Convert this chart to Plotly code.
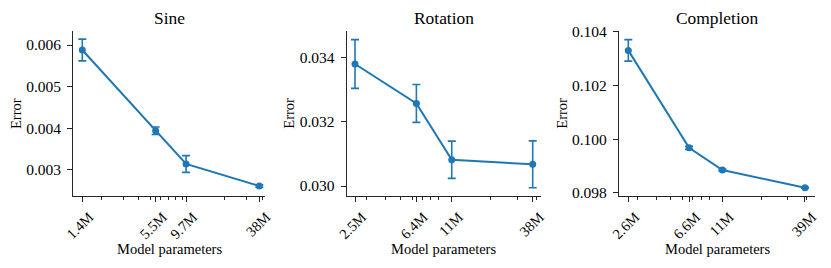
import plotly.graph_objects as go

W, H = 831, 268

# ---------------- data ----------------
titles = ["Sine", "Rotation", "Completion"]

sine_params = [1.4e6, 5.5e6, 9.7e6, 38e6]
sine_labels = ["1.4M", "5.5M", "9.7M", "38M"]
sine_error = [0.00588, 0.003943, 0.003144, 0.002616]
sine_std = [0.00026, 0.00009, 0.00020, 0.00003]
sine_yticks = [0.003, 0.004, 0.005, 0.006]

rot_params = [2.5e6, 6.4e6, 11e6, 38e6]
rot_labels = ["2.5M", "6.4M", "11M", "38M"]
rot_error = [0.033804, 0.032573, 0.030819, 0.030676]
rot_std = [0.00076, 0.00059, 0.00058, 0.00073]
rot_yticks = [0.030, 0.032, 0.034]

comp_params = [2.6e6, 6.6e6, 11e6, 39e6]
comp_labels = ["2.6M", "6.6M", "11M", "39M"]
comp_error = [0.103307, 0.099676, 0.098846, 0.098186]
comp_std = [0.00040, 0.00006, 0.00004, 0.00002]
comp_yticks = [0.098, 0.100, 0.102, 0.104]

minor_ticks = [m * 10 ** e for e in (6, 7) for m in range(2, 10)]

# ---------------- layout geometry (pixels) ----------------
panels = [
    dict(x=sine_params, y=sine_error, e=sine_std, lab=sine_labels, yt=sine_yticks,
         px=(73.3, 265.0), xr=(6.0732, 7.6260), yr=(0.002383, 0.006336), ytx=16.7),
    dict(x=rot_params, y=rot_error, e=rot_std, lab=rot_labels, yt=rot_yticks,
         px=(346.7, 541.0), xr=(6.3427, 7.6350), yr=(0.029698, 0.034832), ytx=289.3),
    dict(x=comp_params, y=comp_error, e=comp_std, lab=comp_labels, yt=comp_yticks,
         px=(619.0, 815.0), xr=(6.3531, 7.6577), yr=(0.09789, 0.10403), ytx=562.3),
]
top_px, bot_px = 31.0, 195.7
ydom = [1 - bot_px / H, 1 - top_px / H]

COLOR = "#1f77b4"
AXC = "#262626"
FONT = "Liberation Serif, Times New Roman, serif"

fig = go.Figure()
annotations = []
for i, (p, title) in enumerate(zip(panels, titles)):
    n = "" if i == 0 else str(i + 1)
    fig.add_trace(go.Scatter(
        x=p["x"], y=p["y"], mode="lines+markers",
        line=dict(color=COLOR, width=2),
        marker=dict(color=COLOR, size=7),
        error_y=dict(type="data", array=p["e"], visible=True,
                     color=COLOR, thickness=1.6, width=4),
        xaxis="x" + n, yaxis="y" + n, showlegend=False,
    ))
    xd = [p["px"][0] / W, p["px"][1] / W]
    fig.update_layout(**{
        "xaxis" + n: dict(
            domain=xd, type="log", range=list(p["xr"]), anchor="y" + n,
            tickvals=p["x"], ticktext=p["lab"], tickangle=-45,
            ticks="outside", ticklen=5, tickwidth=1, tickcolor=AXC,
            showline=True, linecolor=AXC, linewidth=1.2, showgrid=False,
            zeroline=False, automargin=False,
            ticklabelshift=7, ticklabelstandoff=1,
            tickfont=dict(family=FONT, size=14.5, color="black"),
            minor=dict(tickvals=minor_ticks, ticks="outside", ticklen=3,
                       tickwidth=0.8, tickcolor=AXC, showgrid=False),
        ),
        "yaxis" + n: dict(
            domain=ydom, range=list(p["yr"]), anchor="x" + n,
            tickvals=p["yt"], tickformat=".3f",
            ticks="outside", ticklen=5, tickwidth=1, tickcolor=AXC,
            showline=True, linecolor=AXC, linewidth=1.2, showgrid=False,
            zeroline=False, automargin=False, ticklabelstandoff=3,
            tickfont=dict(family=FONT, size=15.5, color="black"),
        ),
    })
    cx = (p["px"][0] + p["px"][1]) / 2 / W
    annotations.append(dict(text=title, x=cx, y=1 - 17.5 / H, xref="paper", yref="paper",
                            xanchor="center", yanchor="middle", showarrow=False,
                            font=dict(family=FONT, size=17.4, color="black")))
    annotations.append(dict(text="Model parameters", x=cx, y=1 - 249.3 / H,
                            xref="paper", yref="paper", xanchor="center", yanchor="middle",
                            showarrow=False, font=dict(family=FONT, size=14.5, color="black")))
    annotations.append(dict(text="Error", x=p["ytx"] / W, y=1 - (top_px + bot_px) / 2 / H,
                            xref="paper", yref="paper", xanchor="center", yanchor="middle",
                            textangle=-90, showarrow=False,
                            font=dict(family=FONT, size=14.5, color="black")))

fig.update_layout(
    width=W, height=H, margin=dict(l=0, r=0, t=0, b=0),
    paper_bgcolor="white", plot_bgcolor="white",
    annotations=annotations, template="none",
)

fig.write_html("out.html", config={"displayModeBar": False},
               post_script="document.body.style.margin='0';document.body.style.overflow='hidden';")
